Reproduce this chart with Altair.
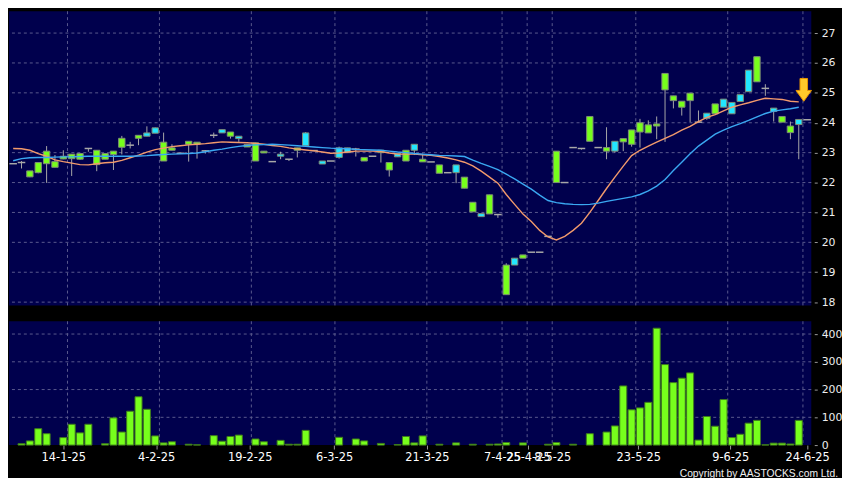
import json
import altair as alt
import pandas as pd

# ---------------- data ----------------
slot = list(range(96))
open_ = [22.63, 22.67, 22.19, 22.33, 22.63, 22.51, 22.79, 22.80, 22.78, 23.14,
         22.60, 22.78, 22.94, 23.18, 23.25, 23.48, 23.66, 23.83, 22.72, 23.08,
         22.98, 23.28, 23.28, 23.06, 23.58, 23.77, 23.55, 23.55, 23.19, 22.72,
         22.99, 22.70, 22.95, 22.78, 23.08, 23.66, 23.07, 22.72, 22.72, 23.16,
         23.16, 23.12, 22.72, 22.88, 23.00, 22.42, 22.97, 22.72, 23.28, 22.69,
         22.69, 22.31, 22.33, 22.59, 21.81, 21.02, 20.96, 20.95, 20.93, 18.25,
         19.47, 19.47, 19.67, 19.67, 20.20, 22.00, 22.00, 23.17, 23.14, 23.38,
         23.17, 23.05, 23.38, 23.36, 23.28, 23.69, 23.66, 23.89, 25.10, 24.74,
         24.52, 24.74, 24.02, 24.32, 24.30, 24.79, 24.68, 24.94, 25.76, 25.37,
         25.15, 24.49, 24.02, 23.67, 24.11, 24.10]
high = [22.63, 22.72, 22.39, 22.67, 23.22, 22.92, 23.08, 22.95, 22.97, 23.14,
        23.08, 22.97, 23.05, 23.56, 23.36, 23.58, 23.88, 23.84, 23.67, 23.28,
        22.98, 23.38, 23.35, 23.08, 23.67, 23.77, 23.69, 23.55, 23.27, 23.33,
        23.05, 22.70, 23.03, 22.78, 23.16, 23.69, 23.07, 22.72, 22.72, 23.20,
        23.16, 23.16, 22.84, 22.88, 23.08, 22.67, 22.97, 23.08, 23.28, 22.97,
        22.69, 22.59, 22.33, 22.59, 22.18, 21.34, 20.96, 21.59, 20.93, 19.30,
        19.47, 19.58, 19.67, 19.67, 20.20, 23.05, 22.00, 23.17, 23.14, 24.21,
        23.17, 23.85, 23.38, 23.47, 23.76, 24.13, 24.08, 24.21, 25.65, 24.90,
        24.72, 24.99, 24.41, 24.32, 24.63, 24.79, 24.68, 24.94, 25.76, 26.21,
        25.29, 24.49, 24.21, 24.04, 24.11, 24.10]
low = [22.63, 22.47, 22.18, 22.31, 21.99, 22.51, 22.78, 22.22, 22.76, 23.03,
       22.38, 22.78, 22.42, 22.94, 23.14, 23.25, 23.55, 23.65, 22.72, 23.08,
       22.98, 22.70, 22.80, 22.97, 23.49, 23.66, 23.47, 23.36, 23.19, 22.72,
       22.99, 22.70, 22.78, 22.72, 22.84, 23.23, 23.07, 22.62, 22.72, 22.80,
       23.00, 22.87, 22.72, 22.88, 22.67, 22.20, 22.86, 22.72, 22.92, 22.69,
       22.69, 22.31, 22.33, 21.98, 21.81, 21.02, 20.86, 20.95, 20.82, 18.25,
       19.24, 19.47, 19.67, 19.67, 20.20, 22.00, 22.00, 23.17, 23.10, 23.38,
       23.17, 22.78, 23.00, 23.05, 23.20, 23.17, 23.66, 23.45, 23.36, 24.48,
       24.24, 24.02, 24.02, 24.10, 24.30, 24.52, 24.30, 24.71, 25.04, 25.37,
       24.90, 24.04, 24.02, 23.45, 22.78, 24.10]
close = [22.63, 22.67, 22.39, 22.67, 23.05, 22.70, 22.88, 22.95, 22.97, 23.14,
         23.08, 22.97, 23.05, 23.48, 23.25, 23.58, 23.55, 23.65, 23.35, 23.16,
         22.98, 23.38, 23.35, 23.06, 23.58, 23.66, 23.69, 23.47, 23.27, 23.33,
         23.05, 22.70, 22.88, 22.78, 23.16, 23.23, 23.07, 22.62, 22.72, 22.84,
         23.00, 23.12, 22.84, 22.88, 23.08, 22.67, 22.86, 23.08, 23.08, 22.78,
         22.69, 22.59, 22.33, 22.33, 22.18, 21.34, 20.86, 21.59, 20.93, 19.24,
         19.24, 19.58, 19.67, 19.67, 20.20, 23.05, 22.00, 23.17, 23.14, 24.21,
         23.17, 23.17, 23.05, 23.47, 23.76, 24.00, 23.93, 23.96, 25.65, 24.90,
         24.72, 24.99, 24.02, 24.15, 24.63, 24.52, 24.30, 24.71, 25.04, 26.21,
         25.15, 24.38, 24.21, 23.89, 23.94, 24.10]
# g = green body, c = cyan body, d = flat (doji) mark ; one string per 10 slots
kind_rows = ["ddgggggggd", "ggggdgccgg", "dggddcgcgg", "gdcdgcdcdc", "cdgdggcgcg",
             "dgdcggcgdg", "cgdddgdddg", "dgcggggggg", "ggdcgccccg", "dcggcd"]
kind = [ch for row in kind_rows for ch in row]
volume = [0, 5, 15, 59, 41, 0, 27, 75, 44, 75,
          0, 5, 98, 47, 122, 174, 129, 33, 8, 12,
          0, 3, 1, 0, 34, 14, 31, 36, 0, 22,
          12, 0, 17, 3, 3, 53, 0, 0, 0, 28,
          0, 22, 15, 0, 6, 0, 2, 31, 8, 33,
          0, 3, 0, 8, 0, 3, 0, 3, 4, 9,
          0, 8, 0, 0, 3, 9, 0, 3, 0, 41,
          0, 47, 69, 213, 127, 134, 154, 421, 290, 225,
          241, 260, 18, 103, 68, 164, 27, 39, 79, 89,
          1, 7, 7, 4, 89, 0]
ma_short = [23.14, 23.13, 23.08, 22.97, 22.88, 22.76, 22.70, 22.65, 22.60, 22.59,
            22.63, 22.66, 22.68, 22.74, 22.83, 22.92, 23.02, 23.10, 23.15, 23.20,
            23.23, 23.26, 23.28, 23.30, 23.33, 23.36, 23.35, 23.34, 23.33, 23.31,
            23.28, 23.24, 23.21, 23.16, 23.12, 23.09, 23.06, 23.02, 22.98, 22.99,
            23.02, 23.05, 23.05, 23.05, 23.04, 22.99, 22.95, 22.95, 22.95, 22.93,
            22.91, 22.87, 22.82, 22.76, 22.68, 22.56, 22.38, 22.18, 21.98, 21.60,
            21.27, 20.95, 20.70, 20.40, 20.18, 20.08, 20.20, 20.40, 20.64, 21.00,
            21.40, 21.80, 22.18, 22.55, 22.90, 23.08, 23.22, 23.35, 23.48, 23.60,
            23.75, 23.88, 24.04, 24.18, 24.27, 24.40, 24.52, 24.60, 24.67, 24.75,
            24.82, 24.80, 24.78, 24.72, 24.70]
ma_long = [22.73, 22.80, 22.83, 22.84, 22.84, 22.85, 22.86, 22.86, 22.87, 22.88,
           22.88, 22.88, 22.88, 22.88, 22.88, 22.89, 22.90, 22.92, 22.94, 22.95,
           22.96, 22.97, 22.99, 23.03, 23.08, 23.12, 23.17, 23.21, 23.24, 23.26,
           23.27, 23.28, 23.27, 23.25, 23.23, 23.21, 23.19, 23.17, 23.15, 23.14,
           23.13, 23.11, 23.10, 23.09, 23.08, 23.05, 23.02, 23.00, 22.97, 22.95,
           22.93, 22.91, 22.90, 22.89, 22.87, 22.75, 22.64, 22.54, 22.43, 22.28,
           22.12, 21.95, 21.78, 21.58, 21.40, 21.33, 21.29, 21.27, 21.26, 21.27,
           21.31, 21.37, 21.42, 21.47, 21.52, 21.60, 21.72, 21.88, 22.10, 22.40,
           22.68, 22.96, 23.22, 23.42, 23.62, 23.75, 23.87, 23.97, 24.08, 24.20,
           24.31, 24.39, 24.43, 24.47, 24.52]
date_tick_pos = [6.0, 17.1, 28.3, 38.4, 49.5, 58.5, 61.6, 64.5, 74.8, 85.8, 95.0]
date_tick_labels = ["14-1-25", "4-2-25", "19-2-25", "6-3-25", "21-3-25", "7-4-25",
                    "25-4-25", "8-5-25", "23-5-25", "9-6-25", "24-6-25"]
date_grid_pos = [6.5, 17.5, 28.5, 38.5, 49.5, 58.5, 61.5, 64.5, 74.5, 85.5, 94.5]
price_ticks = [18, 19, 20, 21, 22, 23, 24, 25, 26, 27]
volume_ticks = [0, 100, 200, 300, 400]
volume_grid = [100, 200, 300, 400]
arrow_slot = [94.6]
arrow_price = [25.1]
copyright_text = ["Copyright by AASTOCKS.com Ltd."]

# ---------------- styling ----------------
NAVY = "#00004d"
GRID = "#5a5a8e"
WICK = "#a8a8a8"
GREEN = "#77ff1c"
CYAN = "#22e6ff"
BODY_STROKE = "#7d8c76"
ORANGE = "#f29a6c"
BLUE = "#3aa8f2"
FONT = "DejaVu Sans"

W = 810
H_MAIN = 297
H_VOL = 125
x_scale = alt.Scale(domain=[-0.5, 95.5], nice=False, zero=False)
p_scale = alt.Scale(domain=[17.89, 27.73], nice=False, zero=False)
v_scale = alt.Scale(domain=[0, 446], nice=False, zero=False)

price_axis = alt.Axis(orient="right", values=price_ticks, grid=False, domain=False,
                      tickColor="#9a9a9a", tickSize=3, offset=3, labelPadding=4,
                      labelColor="#eeeeee", labelFont=FONT, labelFontSize=11,
                      labelAlign="left", title=None)
vol_axis = alt.Axis(orient="right", values=volume_ticks, grid=False, domain=False,
                    tickColor="#9a9a9a", tickSize=3, offset=3, labelPadding=4,
                    labelColor="#eeeeee", labelFont=FONT, labelFontSize=11,
                    labelAlign="left", title=None)
label_expr = ("%s[indexof(%s, datum.value)]"
              % (json.dumps(date_tick_labels), json.dumps(date_tick_pos)))
date_axis = alt.Axis(values=date_tick_pos, labelExpr=label_expr, grid=False, domain=False,
                     tickColor="#9a9a9a", tickSize=4, labelPadding=3,
                     labelColor="#ffffff", labelFont=FONT, labelFontSize=11.5,
                     labelOverlap=False, title=None)

candles = pd.DataFrame({"i": slot, "o": open_, "h": high, "l": low, "c": close, "k": kind})
vol_df = pd.DataFrame({"i": slot, "v": volume})
ma_df = pd.DataFrame({"i": list(range(len(ma_short))), "s": ma_short, "m": ma_long})
vgrid_df = pd.DataFrame({"g": date_grid_pos})
pgrid_df = pd.DataFrame({"p": price_ticks})
volgrid_df = pd.DataFrame({"p": volume_grid})
arrow_df = pd.DataFrame({"i": arrow_slot, "p": arrow_price})
copy_df = pd.DataFrame({"t": copyright_text})

# ---------------- main price panel ----------------
vgrid = alt.Chart(vgrid_df).mark_rule(color=GRID, strokeDash=[3, 3], strokeWidth=1).encode(
    x=alt.X("g:Q", scale=x_scale, axis=None))
pgrid = alt.Chart(pgrid_df).mark_rule(color=GRID, strokeDash=[3, 3], strokeWidth=1).encode(
    y=alt.Y("p:Q", scale=p_scale, axis=price_axis))

base = alt.Chart(candles).transform_calculate(
    lo="min(datum.o, datum.c)", hi="max(datum.o, datum.c)",
    x0="datum.i - 0.38", x1="datum.i + 0.38",
    d0="datum.i - 0.45", d1="datum.i + 0.45")

wicks = base.transform_filter("datum.h > datum.l").mark_rule(
    color=WICK, strokeWidth=1).encode(
    x=alt.X("i:Q", scale=x_scale, axis=None),
    y=alt.Y("l:Q", scale=p_scale, axis=price_axis),
    y2="h:Q")

bodies = base.transform_filter("datum.k != 'd'").mark_rect(
    stroke=BODY_STROKE, strokeWidth=1).encode(
    x=alt.X("x0:Q", scale=x_scale, axis=None), x2="x1:Q",
    y=alt.Y("lo:Q", scale=p_scale, axis=price_axis), y2="hi:Q",
    fill=alt.Fill("k:N", scale=alt.Scale(domain=["g", "c"], range=[GREEN, CYAN]),
                  legend=None))

dojis = base.transform_filter("datum.k == 'd'").mark_rule(
    color=WICK, strokeWidth=1.5).encode(
    x=alt.X("d0:Q", scale=x_scale, axis=None), x2="d1:Q",
    y=alt.Y("c:Q", scale=p_scale, axis=price_axis))

ma_s_line = alt.Chart(ma_df).mark_line(color=ORANGE, strokeWidth=1.4).encode(
    x=alt.X("i:Q", scale=x_scale, axis=None),
    y=alt.Y("s:Q", scale=p_scale, axis=price_axis))
ma_l_line = alt.Chart(ma_df).mark_line(color=BLUE, strokeWidth=1.4).encode(
    x=alt.X("i:Q", scale=x_scale, axis=None),
    y=alt.Y("m:Q", scale=p_scale, axis=price_axis))

arrow_path = "M-0.33,-1 L0.33,-1 L0.33,0.05 L0.68,0.05 L0,1 L-0.68,0.05 L-0.33,0.05 Z"
arrow = alt.Chart(arrow_df).mark_point(
    shape=arrow_path, size=529, filled=True, fill="#ffc92a", stroke="#e89400",
    strokeWidth=1, opacity=1).encode(
    x=alt.X("i:Q", scale=x_scale, axis=None),
    y=alt.Y("p:Q", scale=p_scale, axis=price_axis))

main = alt.layer(vgrid, pgrid, wicks, bodies, dojis, ma_s_line, ma_l_line, arrow).properties(
    width=W, height=H_MAIN)

# ---------------- volume panel ----------------
vgrid2 = alt.Chart(vgrid_df).mark_rule(color=GRID, strokeDash=[3, 3], strokeWidth=1).encode(
    x=alt.X("g:Q", scale=x_scale, axis=date_axis))
hgrid2 = alt.Chart(volgrid_df).mark_rule(color=GRID, strokeDash=[3, 3], strokeWidth=1).encode(
    y=alt.Y("p:Q", scale=v_scale, axis=vol_axis))
vbars = alt.Chart(vol_df).transform_filter("datum.v > 0").transform_calculate(
    x0="datum.i - 0.42", x1="datum.i + 0.42", z="0").mark_rect(
    fill=GREEN, stroke="#3f7a1c", strokeWidth=1).encode(
    x=alt.X("x0:Q", scale=x_scale, axis=date_axis), x2="x1:Q",
    y=alt.Y("z:Q", scale=v_scale, axis=vol_axis), y2="v:Q")
copyright_mark = alt.Chart(copy_df).mark_text(
    align="right", baseline="middle", color="#f0f0f0",
    font="Liberation Sans", fontSize=10.4).encode(
    x=alt.value(837), y=alt.value(154), text="t:N")

vol = alt.layer(vgrid2, hgrid2, vbars, copyright_mark).properties(width=W, height=H_VOL)

chart = alt.vconcat(main, vol, spacing=13, padding=0).configure(
    background="#000000").configure_view(fill=NAVY, strokeWidth=0)

chart.save("out.html", embed_options={"renderer": "svg", "actions": False})
